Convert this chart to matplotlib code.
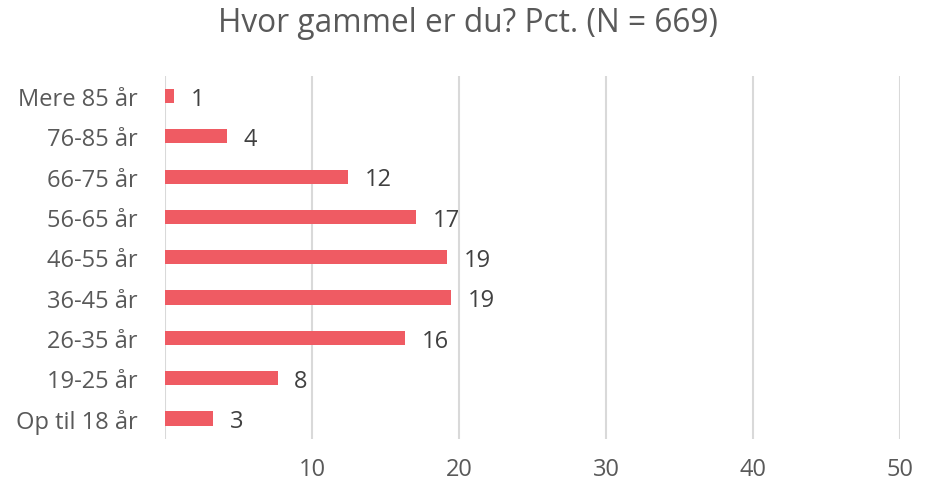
import matplotlib.pyplot as plt

kategorier = ["Op til 18 år", "19-25 år", "26-35 år", "36-45 år", "46-55 år",
              "56-65 år", "66-75 år", "76-85 år", "Mere 85 år"]
procent = [3.25, 7.63, 16.3, 19.44, 19.13, 17.04, 12.4, 4.16, 0.56]
etiketter = ["3", "8", "16", "19", "19", "17", "12", "4", "1"]
x_ticks = [0, 10, 20, 30, 40, 50]
x_labels = ["", "10", "20", "30", "40", "50"]

plt.rcParams["font.family"] = ["Open Sans", "DejaVu Sans"]

fig = plt.figure(figsize=(9.35, 4.85), dpi=100)
ax = fig.add_axes([0.177, 0.0936, 0.786, 0.748])

pos = list(range(len(kategorier)))
ax.barh(pos, procent, height=0.35, color="#EF5B63", zorder=3)

for p, v, t in zip(pos, procent, etiketter):
    ax.annotate(t, (v, p), xytext=(12, -2), textcoords="offset points",
                ha="left", va="center", fontsize=17, color="#404040")

ax.set_xlim(0, 50)
ax.set_ylim(-0.5, len(kategorier) - 0.5)
ax.set_yticks(pos)
ax.set_yticklabels(kategorier, fontsize=17, color="#595959")
ax.set_xticks(x_ticks)
ax.set_xticklabels(x_labels, fontsize=17, color="#595959")
ax.tick_params(axis="both", length=0)
ax.tick_params(axis="x", pad=13)
ax.tick_params(axis="y", pad=20)
ax.grid(axis="x", color="#D9D9D9", linewidth=1.5, zorder=0)
for s in ax.spines.values():
    s.set_visible(False)

fig.suptitle("Hvor gammel er du? Pct. (N = 669)", fontsize=22.8,
             color="#595959", y=0.985, va="top")

fig.savefig("out.png", dpi=100)
